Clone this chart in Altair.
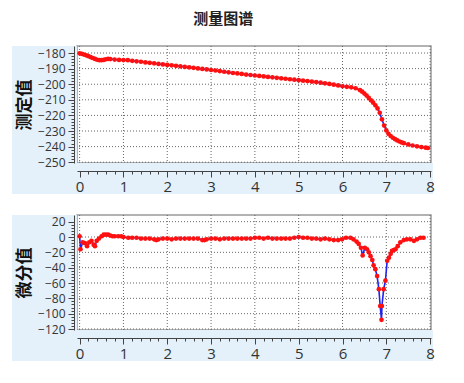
import altair as alt
import pandas as pd

# ---------------- data ----------------
top_x = [0.00, 0.05, 0.10, 0.15, 0.20, 0.25, 0.30, 0.35, 0.40, 0.45, 0.50, 0.55, 0.60, 0.65, 0.70,
         0.80, 0.90, 1.00, 1.10, 1.20, 1.30, 1.40, 1.50, 1.60, 1.70, 1.80, 1.90, 2.00, 2.10, 2.20,
         2.30, 2.40, 2.50, 2.60, 2.70, 2.80, 2.90, 3.00, 3.10, 3.20, 3.30, 3.40, 3.50, 3.60, 3.70,
         3.80, 3.90, 4.00, 4.10, 4.20, 4.30, 4.40, 4.50, 4.60, 4.70, 4.80, 4.90, 5.00, 5.10, 5.20,
         5.30, 5.40, 5.50, 5.60, 5.70, 5.80, 5.90, 6.00, 6.10, 6.20, 6.30, 6.40, 6.45, 6.50, 6.55,
         6.60, 6.65, 6.70, 6.75, 6.80, 6.85, 6.90, 6.95, 7.00, 7.05, 7.10, 7.15, 7.20, 7.25, 7.30,
         7.35, 7.40, 7.50, 7.60, 7.70, 7.80, 7.90, 7.95]
top_y = [-180.2, -180.5, -181.0, -181.5, -182.0, -182.6, -183.2, -183.8, -184.3, -184.6, -184.6, -184.4, -184.0, -183.8, -183.9,
         -184.2, -184.4, -184.5, -184.6, -185.0, -185.3, -185.6, -186.0, -186.3, -186.6, -187.0, -187.3, -187.6, -187.9, -188.2,
         -188.5, -188.9, -189.2, -189.5, -189.9, -190.2, -190.5, -190.9, -191.2, -191.6, -192.0, -192.4, -192.8, -193.1, -193.4,
         -193.8, -194.1, -194.4, -194.7, -195.0, -195.3, -195.6, -195.9, -196.2, -196.5, -196.8, -197.1, -197.4, -197.7, -198.0,
         -198.3, -198.6, -199.0, -199.4, -199.8, -200.3, -200.8, -201.3, -201.7, -202.0, -202.6, -203.8, -204.8, -206.0, -207.3,
         -208.8, -210.3, -211.8, -213.5, -215.5, -218.3, -222.5, -226.5, -229.6, -231.8, -233.2, -234.3, -235.2, -236.0, -236.7,
         -237.3, -237.8, -238.6, -239.3, -239.8, -240.3, -240.7, -240.9]

bot_x = [0.00, 0.02, 0.07, 0.12, 0.17, 0.22, 0.27, 0.32, 0.35, 0.39, 0.44, 0.50, 0.55, 0.60, 0.65,
         0.70, 0.75, 0.80, 0.88, 0.95, 1.00, 1.11, 1.20, 1.30, 1.40, 1.50, 1.60, 1.70, 1.75, 1.80,
         1.90, 2.00, 2.10, 2.20, 2.30, 2.40, 2.50, 2.60, 2.70, 2.80, 2.85, 2.90, 3.00, 3.10, 3.20,
         3.30, 3.40, 3.50, 3.60, 3.70, 3.80, 3.90, 4.00, 4.10, 4.20, 4.30, 4.40, 4.50, 4.60, 4.70,
         4.80, 4.90, 5.00, 5.10, 5.20, 5.30, 5.40, 5.50, 5.60, 5.70, 5.80, 5.90, 5.99, 6.08, 6.18,
         6.25, 6.32, 6.37, 6.42, 6.46, 6.51, 6.56, 6.60, 6.64, 6.68, 6.71, 6.75, 6.79, 6.83, 6.86,
         6.89, 6.90, 6.94, 6.98, 7.02, 7.06, 7.10, 7.13, 7.17, 7.21, 7.26, 7.32, 7.40, 7.47, 7.55,
         7.63, 7.70, 7.78, 7.85]
bot_y = [1, -16, -7, -8, -12, -7, -5, -10, -12, -5, -2, 1, 3, 3, 3,
         2, 1, 1, 1, 1, 0, -1, -1, -1, -2, -2, -2, -3, -4, -3,
         -2, -2, -3, -2, -2, -2, -2, -2, -2, -4, -4, -3, -2, -2, -3,
         -2, -2, -2, -2, -2, -2, -2, -1, -1, -2, -1, -2, -2, -2, -2,
         -2, -1, 0, -1, -1, -2, -2, -3, -2, -3, -4, -4, -3, -1, -1,
         -3, -6, -9, -14, -24, -14, -16, -20, -25, -30, -37, -42, -51, -68, -90,
         -108, -90, -68, -57, -31, -27, -22, -18, -17, -16, -12, -7, -4, -3, -3,
         -5, -3, -1, -1]

x_ticks = [round(i * 0.2, 1) for i in range(0, 41)]
x_grid = [0, 1, 2, 3, 4, 5, 6, 7, 8]
top_ticks = list(range(-250, -179, 2))
top_grid = [-250, -240, -230, -220, -210, -200, -190, -180]
bot_ticks = list(range(-120, 21, 4))
bot_grid = [-120, -100, -80, -60, -40, -20, 0, 20]

# ---------------- style ----------------
BLUE_BG = "#e4f1fb"
LINE_BLUE = "#2222ee"
PT_RED = "#ff1010"
NUM_FONT = "Open Sans"
CJK = "Noto Sans CJK SC"
W = 354

INT_TEST = "abs(datum.value - round(datum.value)) < 0.001"


def panel(xs, ys, y_title, y_dom, y_ticks, y_grid, h, major):
    df = pd.DataFrame({"x": xs, "y": ys})
    xscale = alt.Scale(domain=[-0.06, 8.02], nice=False, zero=False)
    yscale = alt.Scale(domain=y_dom, nice=False, zero=False)
    xaxis = alt.Axis(
        values=x_ticks, grid=False, title=None, offset=8, zindex=1,
        labelExpr=INT_TEST + " ? format(datum.value, '.0f') : ''",
        tickSize={"condition": {"test": INT_TEST, "value": 6}, "value": 3},
        labelFont=NUM_FONT, labelFontSize=15, labelColor="#333", labelPadding=2,
        domainColor="#444", tickColor="#444", labelFlush=False,
    )
    yaxis = alt.Axis(
        values=y_ticks, grid=False, title=y_title, offset=3, zindex=1,
        labelExpr="datum.value %% %d === 0 ? datum.label : ''" % major,
        tickSize={"condition": {"test": "datum.value %% %d === 0" % major, "value": 6}, "value": 3},
        labelFont=NUM_FONT, labelFontSize=12, labelColor="#333", labelPadding=3,
        domainColor="#444", tickColor="#444",
        titleFont=CJK, titleFontSize=17, titleFontWeight="bold", titleColor="#111",
        titlePadding=4,
    )
    one = alt.Data(values=[{"a": 1}])
    bg_left = alt.Chart(one).mark_rect(color=BLUE_BG).encode(
        x=alt.value(-65), x2=alt.value(0), y=alt.value(0), y2=alt.value(h + 31))
    bg_bot = alt.Chart(one).mark_rect(color=BLUE_BG).encode(
        x=alt.value(0), x2=alt.value(W + 2), y=alt.value(h), y2=alt.value(h + 31))
    gx = alt.Chart(pd.DataFrame({"g": x_grid})).mark_rule(
        color="#666", strokeDash=[1, 2], strokeWidth=1).encode(
        x=alt.X("g:Q", scale=xscale, axis=xaxis))
    gy = alt.Chart(pd.DataFrame({"g": y_grid})).mark_rule(
        color="#666", strokeDash=[1, 2], strokeWidth=1).encode(
        y=alt.Y("g:Q", scale=yscale, axis=yaxis))
    base = alt.Chart(df).encode(
        x=alt.X("x:Q", scale=xscale, axis=xaxis),
        y=alt.Y("y:Q", scale=yscale, axis=yaxis),
    )
    line = base.mark_line(color=LINE_BLUE, strokeWidth=1.6)
    pts = base.mark_circle(color=PT_RED, size=22, opacity=1)
    return alt.layer(bg_left, bg_bot, gx, gy, line, pts).properties(width=W, height=h)


top = panel(top_x, top_y, "测定值", [-250.5, -175.5], top_ticks, top_grid, 117, 10)
bot = panel(bot_x, bot_y, "微分值", [-121.3, 28.7], bot_ticks, bot_grid, 115, 20)

chart = alt.vconcat(top, bot, spacing=18).properties(
    title=alt.TitleParams("测量图谱", font=CJK, fontSize=15, fontWeight="bold",
                          color="#222", anchor="middle", offset=18),
    padding={"left": 11, "top": 11, "right": 5, "bottom": 5},
).configure_view(stroke="#999", strokeWidth=1.5)

chart.save("out.html", embed_options={"renderer": "svg", "actions": False})
